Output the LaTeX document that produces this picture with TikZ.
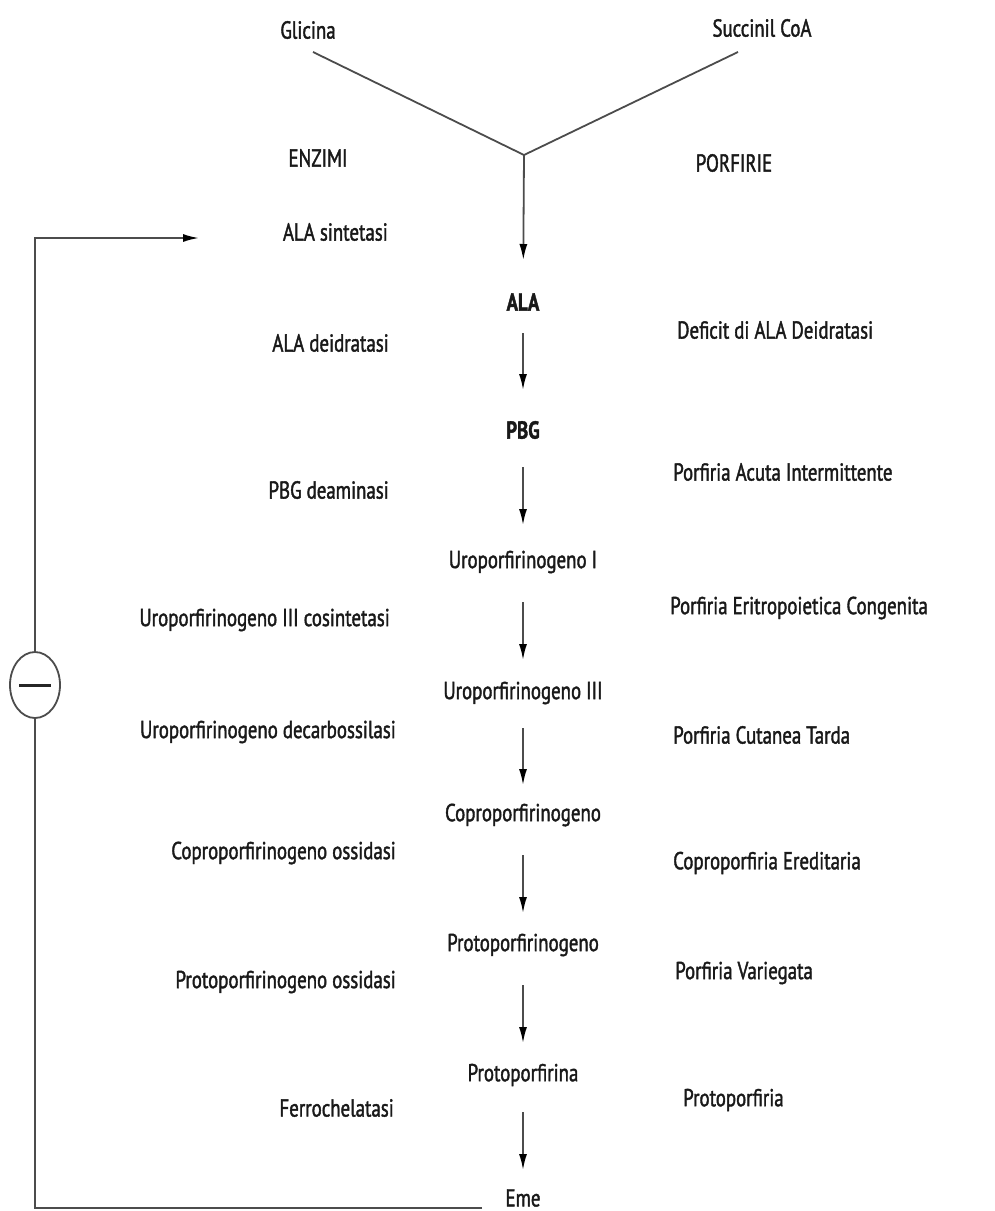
\documentclass[tikz,border=0pt]{standalone}
\usepackage{fontspec}
\setmainfont{PT Sans}[FakeStretch=0.77,FakeBold=1.6]
\usetikzlibrary{arrows.meta,shapes.geometric}
\begin{document}
\begin{tikzpicture}[x=1pt,y=-1pt,
  txt/.style={inner sep=0pt, font=\fontsize{24.5}{28}\selectfont, text=black!90},
  lefttxt/.style={txt, anchor=east},
  righttxt/.style={txt, anchor=west},
  midtxt/.style={txt, anchor=center},
  boldtxt/.style={txt, anchor=center, font=\fontsize{24.5}{28}\selectfont\bfseries},
  conn/.style={draw=black!70, line width=1.8pt},
  arr/.style={conn, -{Latex[length=16pt,width=8pt,black]}}
]
\useasboundingbox (0,0) rectangle (995,1211);
% top
\node[midtxt] (gli) at (308,30) {Glicina};
\node[midtxt] (suc) at (762,28) {Succinil CoA};
\coordinate (g1) at (313,52);
\coordinate (s1) at (738,52);
\coordinate (J) at (524,155);
\node[midtxt] (enz) at (318,158) {ENZIMI};
\node[midtxt] (por) at (734,163) {PORFIRIE};
% central chain
\node[boldtxt] (ala) at (523,302) {ALA};
\node[boldtxt] (pbg) at (523,430) {PBG};
\node[midtxt] (u1) at (523,562) {Uroporfirinogeno I};
\node[midtxt] (u3) at (523,693) {Uroporfirinogeno III};
\node[midtxt] (cop) at (523,815) {Coproporfirinogeno};
\node[midtxt] (prg) at (523,945) {Protoporfirinogeno};
\node[midtxt] (prt) at (523,1075) {Protoporfirina};
\node[midtxt] (eme) at (523,1198) {Eme};
% enzymes
\node[lefttxt] (e1) at (388,232) {ALA sintetasi};
\node[lefttxt] (e2) at (389,343) {ALA deidratasi};
\node[lefttxt] (e3) at (389,490) {PBG deaminasi};
\node[lefttxt] (e4) at (390,620) {Uroporfirinogeno III cosintetasi};
\node[lefttxt] (e5) at (396,732) {Uroporfirinogeno decarbossilasi};
\node[lefttxt] (e6) at (396,853) {Coproporfirinogeno ossidasi};
\node[lefttxt] (e7) at (396,982) {Protoporfirinogeno ossidasi};
\node[lefttxt] (e8) at (394,1108) {Ferrochelatasi};
% porphyrias
\node[righttxt] (p1) at (677,330) {Deficit di ALA Deidratasi};
\node[righttxt] (p2) at (673,472) {Porfiria Acuta Intermittente};
\node[righttxt] (p3) at (670,608) {Porfiria Eritropoietica Congenita};
\node[righttxt] (p4) at (673,735) {Porfiria Cutanea Tarda};
\node[righttxt] (p5) at (673,863) {Coproporfiria Ereditaria};
\node[righttxt] (p6) at (675,973) {Porfiria Variegata};
\node[righttxt] (p7) at (683,1100) {Protoporfiria};
% Y connectors
\draw[conn] (g1) -- (J) -- (s1);
\draw[arr, shorten >=42pt] (J) -- (ala.center);
% chain arrows
\draw[arr, shorten <=31pt, shorten >=40pt] (ala.center) -- (pbg.center);
\draw[arr, shorten <=37pt, shorten >=37pt] (pbg.center) -- (u1.center);
\draw[arr, shorten <=40pt, shorten >=33pt] (u1.center) -- (u3.center);
\draw[arr, shorten <=35pt, shorten >=30pt] (u3.center) -- (cop.center);
\draw[arr, shorten <=40pt, shorten >=32pt] (cop.center) -- (prg.center);
\draw[arr, shorten <=40pt, shorten >=32pt] (prg.center) -- (prt.center);
\draw[arr, shorten <=37pt, shorten >=28pt] (prt.center) -- (eme.center);
% feedback
\node[ellipse, draw=black!70, line width=1.8pt, minimum width=50pt, minimum height=66pt, inner sep=0pt] (inh) at (35,685) {};
\draw[black!85, line width=3pt] ([xshift=-16pt]inh.center) -- ([xshift=16pt]inh.center);
\coordinate (fbstart) at (482,1208);
\coordinate (fbend) at (199,238);
\draw[conn] (fbstart) -| (inh.south);
\draw[arr] (inh.north) |- (fbend);
\end{tikzpicture}
\end{document}
